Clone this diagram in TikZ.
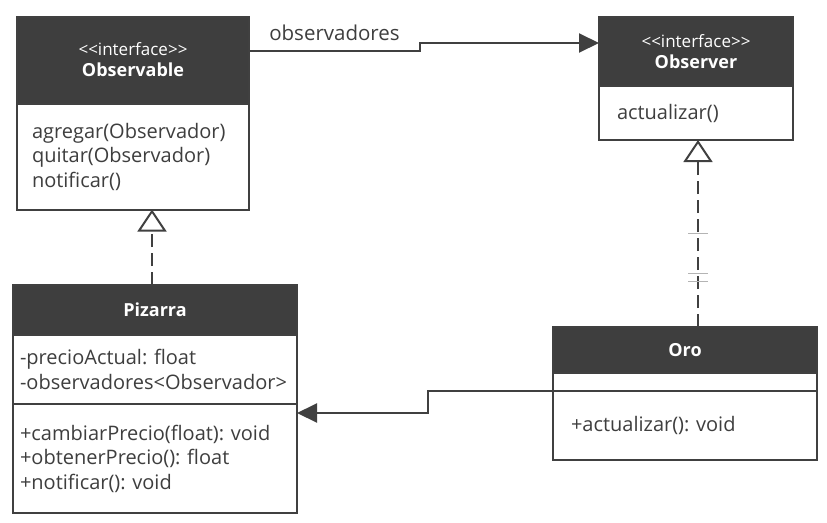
\documentclass[tikz,border=0pt]{standalone}
\usepackage{fontspec}
\setmainfont{Open Sans}
\usetikzlibrary{positioning,arrows.meta}
\definecolor{umldark}{HTML}{3E3E3E}
\definecolor{umlline}{HTML}{404040}
\definecolor{umltick}{HTML}{B4B4B4}
\tikzset{
    head/.style={fill=umldark, draw=umlline, line width=2pt, text=white, align=center,
        inner sep=0pt, outer sep=0pt, font=\fontsize{18}{21}\selectfont\bfseries},
    part/.style={draw=umlline, line width=2pt, fill=white, align=left, text=umldark,
        inner ysep=0pt, outer sep=0pt, font=\fontsize{20}{24.5}\selectfont},
    assoc/.style={draw=umlline, line width=2pt, -{Triangle[length=20pt, width=19pt]}},
    realize/.style={draw=umlline, line width=2pt, dash pattern=on 13pt off 6pt,
        -{Triangle[open, length=22pt, width=29pt, fill=white]}},
}
\newcommand{\stereo}{{\fontsize{17}{21}\selectfont\mdseries <{}<interface>{}>}}
\begin{document}
\frenchspacing
\begin{tikzpicture}[x=1pt, y=-1pt]
    \useasboundingbox[fill=white] (0,0) rectangle (827,522);
    % Observable
    \node[head, minimum width=232, minimum height=87] (obsH) at (133,60) {\stereo\\Observable};
    \node[part, below=0pt of obsH, inner xsep=15pt, text width=202pt, minimum height=106] (obsB)
        {agregar(Observador)\\quitar(Observador)\\notificar()};
    % Observer
    \node[head, minimum width=194, minimum height=69] (obsvH) at (696,51.5) {\stereo\\Observer};
    \node[part, below=0pt of obsvH, inner xsep=18pt, text width=158pt, minimum height=54] (obsvB)
        {actualizar()};
    % Pizarra
    \node[head, minimum width=284, minimum height=50] (pizH) at (155,310) {Pizarra};
    \node[part, below=0pt of pizH, inner xsep=7pt, text width=270pt, minimum height=69] (pizA)
        {-precioActual: float\\-observadores<Observador>};
    \node[part, below=0pt of pizA, inner xsep=7pt, text width=270pt, minimum height=109] (pizM)
        {+cambiarPrecio(float): void\\+obtenerPrecio(): float\\+notificar(): void};
    % Oro
    \node[head, minimum width=264, minimum height=46] (oroH) at (685,350) {Oro};
    \node[part, below=0pt of oroH, inner xsep=18pt, text width=228pt, minimum height=18] (oroA) {};
    \node[part, below=0pt of oroA, inner xsep=18pt, text width=228pt, minimum height=69] (oroM)
        {+actualizar(): void\\[6pt]};
    % connectors
    \draw[assoc] ([yshift=9]obsH.east) -- node[above=6pt, text=umldark,
        font=\fontsize{20.5}{24}\selectfont] (lblObs) {observadores} ++(171,0) |- ([yshift=8.5]obsvH.west);
    \draw[assoc] (oroM.north west) -- ++(-125,0) |- ([yshift=-9]pizM.north east);
    \draw[realize] ([xshift=-3]pizH.north) -- ([xshift=-3]pizH.north |- obsB.south);
    \draw[realize] ([xshift=2]obsvB.south |- oroH.north) -- ([xshift=2]obsvB.south);
    \foreach \ty in {233,273,281}
        \draw[umltick, line width=0.8pt] (688,\ty) -- (708,\ty);
\end{tikzpicture}
\end{document}
